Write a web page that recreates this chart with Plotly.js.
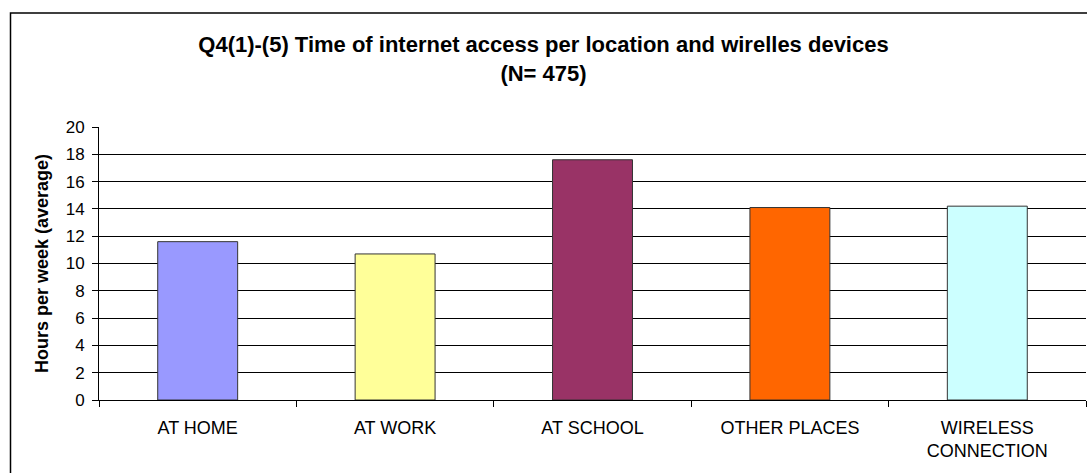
<!DOCTYPE html>
<html>
<head>
<meta charset="utf-8">
<script src="https://cdn.plot.ly/plotly-3.0.1.min.js"></script>
<style>
  html, body { margin: 0; padding: 0; background: #fff; }
  #chart { width: 1087px; height: 473px; }
</style>
</head>
<body>
<div id="chart"></div>
<script>
const categories = ["AT HOME", "AT WORK", "AT SCHOOL", "OTHER PLACES", "WIRELESS<br>CONNECTION"];
const hoursPerWeek = [11.6, 10.7, 17.6, 14.1, 14.2];
const barColors = ["#9999FF", "#FFFF99", "#993366", "#FF6600", "#CCFFFF"];
const yTicks = [0, 2, 4, 6, 8, 10, 12, 14, 16, 18, 20];
const chartTitle = "Q4(1)-(5) Time of internet access per location and wirelles devices<br>(N= 475)";
const yTitle = "Hours per week (average)";

const trace = {
  type: "bar",
  x: categories,
  y: hoursPerWeek,
  marker: { color: barColors, line: { color: "#333333", width: 1 } },
  hoverinfo: "x+y"
};

const layout = {
  width: 1087,
  height: 473,
  margin: { l: 99, r: 1, t: 127, b: 73 },
  paper_bgcolor: "#ffffff",
  plot_bgcolor: "#ffffff",
  font: { family: "Liberation Sans, Arial, sans-serif", color: "#000000", size: 17 },
  showlegend: false,
  bargap: 0.595,
  title: {
    text: chartTitle,
    font: { size: 22, family: "Liberation Sans, Arial, sans-serif", weight: "bold", color: "#000" },
    x: 0.5, xref: "container", xanchor: "center",
    y: 1 - 52 / 473, yref: "container", yanchor: "top"
  },
  xaxis: {
    type: "category",
    showline: true, linecolor: "#000", linewidth: 1,
    ticks: "outside", tickson: "boundaries", ticklen: 6, tickcolor: "#000",
    tickfont: { size: 18 },
    ticklabelstandoff: 11,
    showgrid: false, zeroline: false, fixedrange: true
  },
  yaxis: {
    range: [0, 20],
    tickvals: yTicks,
    ticktext: yTicks.map(String),
    showline: true, linecolor: "#000", linewidth: 1,
    ticks: "outside", ticklen: 6, tickcolor: "#000",
    tickfont: { size: 17 },
    ticklabelstandoff: 4,
    showgrid: true, gridcolor: "#000", gridwidth: 1,
    zeroline: false,
    title: { text: yTitle, font: { size: 18, weight: "bold" }, standoff: 12 },
    automargin: false,
    fixedrange: true
  },
  shapes: [
    {
      type: "rect", xref: "paper", yref: "paper",
      x0: (10.5 - 99) / 987, x1: 1.05,
      y0: -0.5, y1: (400 - 13) / 273,
      line: { color: "#000", width: 1.5 }, fillcolor: "rgba(0,0,0,0)", layer: "below"
    }
  ]
};

Plotly.newPlot("chart", [trace], layout, { displayModeBar: false, staticPlot: true });
</script>
</body>
</html>
